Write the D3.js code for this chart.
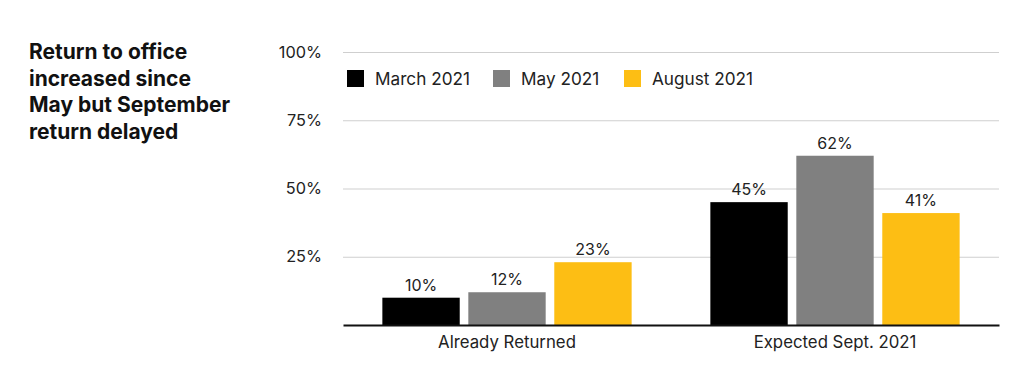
<!DOCTYPE html>
<html><head><meta charset="utf-8">
<script src="https://cdn.jsdelivr.net/npm/d3@7"></script>
<style>
html,body{margin:0;padding:0;background:#fff;}
text{font-family:Inter,"Noto Sans",sans-serif;}
</style></head>
<body>
<svg id="chart" width="1024" height="392"></svg>
<script>
const categories = ["Already Returned", "Expected Sept. 2021"];
const seriesNames = ["March 2021", "May 2021", "August 2021"];
const march2021 = [10, 45];
const may2021 = [12, 62];
const august2021 = [23, 41];
const seriesColors = ["#000000", "#808080", "#FDBE14"];
const yTicks = [25, 50, 75, 100];
const titleLines = ["Return to office", "increased since", "May but September", "return delayed"];

(function () {
const seriesValues = [march2021, may2021, august2021];
const svg = d3.select("#chart");
const plotLeft = 343, plotRight = 999, plotTop = 52, plotBottom = 325;

const x0 = d3.scaleBand().domain(categories).range([plotLeft, plotRight]).paddingInner(0.24).paddingOuter(0.12);
const x1 = d3.scaleBand().domain(seriesNames).range([0, x0.bandwidth()]).paddingInner(0.1).paddingOuter(0);
const y = d3.scaleLinear().domain([0, 100]).range([plotBottom, plotTop]);

// title
const title = svg.append("text").attr("x", 29).attr("y", 59)
  .attr("font-size", 21).attr("font-weight", 700).attr("fill", "#111");
titleLines.forEach((l, i) => title.append("tspan").attr("x", 29).attr("y", 59 + i * 26.5).text(l));

// grid
const yAxis = d3.axisLeft(y).tickValues(yTicks).tickSize(-(plotRight - plotLeft)).tickFormat(d => d + "%").tickPadding(21);
const gy = svg.append("g").attr("transform", `translate(${plotLeft},0)`).call(yAxis);
gy.select(".domain").remove();
gy.selectAll(".tick line").attr("stroke", "#cfcfcf").attr("stroke-width", 1);
gy.selectAll(".tick text").attr("font-size", 16.3).attr("fill", "#222").attr("font-family", "Inter,'Noto Sans',sans-serif");

// bars
const groups = svg.append("g").selectAll("g").data(categories).join("g")
  .attr("transform", d => `translate(${x0(d)},0)`);
groups.each(function(cat, ci) {
  const g = d3.select(this);
  seriesNames.forEach((s, si) => {
    const v = seriesValues[si][ci];
    g.append("rect").attr("x", x1(s)).attr("width", x1.bandwidth())
      .attr("y", y(v)).attr("height", y(0) - y(v)).attr("fill", seriesColors[si]);
    g.append("text").attr("x", x1(s) + x1.bandwidth() / 2).attr("y", y(v) - 7)
      .attr("text-anchor", "middle").attr("font-size", 16).attr("fill", "#222").text(v + "%");
  });
});

// x axis
const xAxis = d3.axisBottom(x0).tickSize(0).tickPadding(11);
const gx = svg.append("g").attr("transform", `translate(0,${plotBottom})`).call(xAxis);
gx.select(".domain").attr("stroke", "#111").attr("stroke-width", 2);
gx.selectAll(".tick text").attr("font-size", 16.8).attr("fill", "#222").attr("font-family", "Inter,'Noto Sans',sans-serif");

// legend
const legendX = [347, 493, 624];
const lg = svg.append("g");
seriesNames.forEach((s, i) => {
  lg.append("rect").attr("x", legendX[i]).attr("y", 70).attr("width", 17).attr("height", 17).attr("fill", seriesColors[i]);
  lg.append("text").attr("x", legendX[i] + 28).attr("y", 85).attr("font-size", 17.2).attr("fill", "#222").text(s);
});
})();
</script>
</body></html>
